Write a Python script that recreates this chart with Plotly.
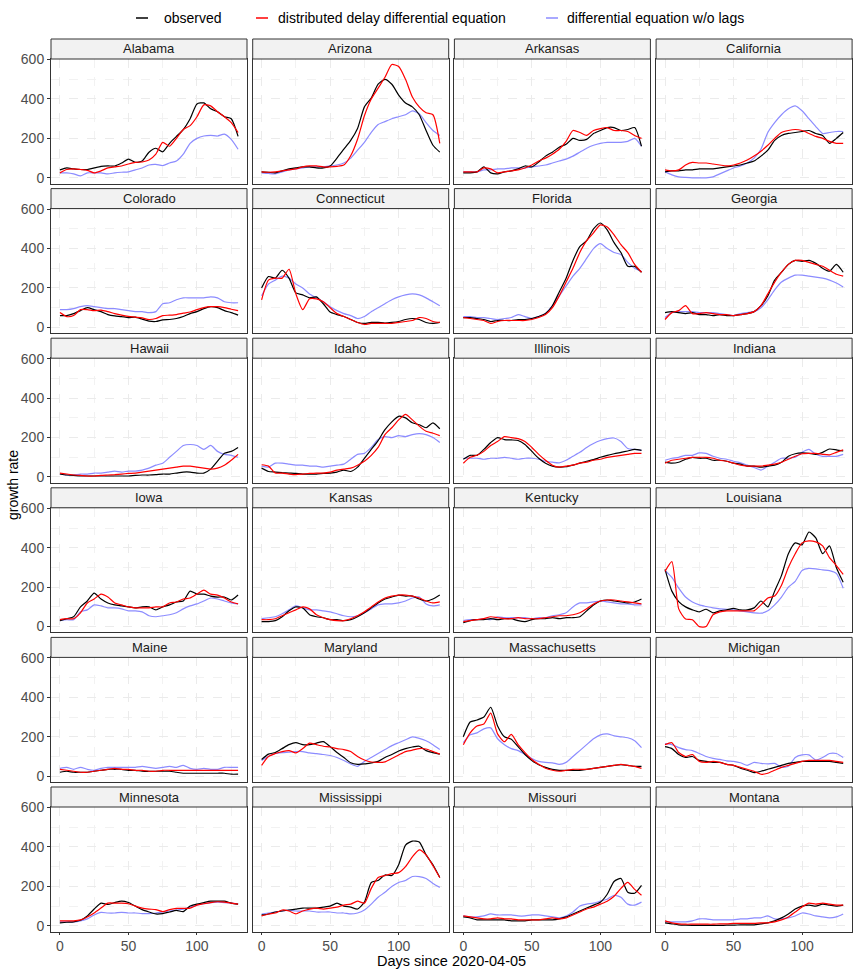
import plotly.graph_objects as go

# -----------------------------------------------------------------------------
#   DATA  (growth rate, every 5 days)
# -----------------------------------------------------------------------------

DAYS = list(range(0, 131, 5))

alabama_obs = [40, 50, 45, 42, 42, 50, 58, 60, 60, 75, 95, 78, 85, 130, 150, 132, 175, 210, 245, 300, 375, 380, 350, 335, 310, 300, 210]
alabama_dde = [25, 42, 45, 42, 38, 25, 35, 50, 55, 60, 70, 78, 80, 90, 120, 180, 160, 200, 245, 265, 310, 370, 365, 335, 310, 280, 230]
alabama_ode = [25, 25, 20, 10, 25, 25, 25, 20, 25, 28, 30, 40, 50, 65, 68, 62, 75, 85, 120, 175, 200, 212, 215, 212, 222, 195, 145]

arizona_obs = [30, 28, 25, 35, 45, 50, 55, 55, 50, 50, 60, 100, 145, 190, 250, 360, 405, 475, 500, 475, 420, 380, 360, 320, 240, 165, 130]
arizona_dde = [30, 28, 30, 35, 40, 45, 55, 60, 60, 55, 55, 58, 65, 112, 196, 315, 400, 455, 510, 575, 565, 500, 410, 360, 330, 320, 175]
arizona_ode = [25, 22, 20, 30, 40, 45, 50, 55, 55, 55, 60, 65, 75, 100, 140, 180, 230, 270, 285, 300, 310, 320, 340, 325, 280, 240, 215]

arkansas_obs = [25, 25, 30, 55, 25, 20, 30, 35, 45, 60, 55, 80, 110, 130, 155, 170, 200, 190, 195, 225, 240, 255, 255, 240, 245, 255, 160]
arkansas_dde = [30, 30, 30, 50, 45, 25, 30, 35, 40, 50, 65, 85, 100, 120, 145, 185, 240, 230, 215, 240, 250, 255, 240, 240, 235, 215, 200]
arkansas_ode = [30, 30, 30, 40, 40, 45, 45, 50, 50, 50, 55, 60, 65, 75, 85, 95, 110, 130, 150, 165, 175, 180, 180, 180, 185, 200, 160]

california_obs = [30, 35, 35, 40, 40, 45, 45, 45, 50, 55, 60, 65, 75, 85, 110, 140, 190, 215, 225, 230, 235, 240, 225, 215, 175, 200, 230]
california_dde = [40, 35, 40, 65, 78, 75, 75, 70, 65, 60, 65, 75, 90, 110, 135, 165, 200, 230, 240, 245, 240, 225, 210, 200, 185, 175, 175]
california_ode = [30, 15, 5, 2, 0, 0, 0, 5, 20, 35, 50, 60, 75, 100, 145, 230, 280, 320, 350, 365, 340, 300, 260, 225, 230, 235, 235]

colorado_obs = [60, 60, 70, 85, 100, 90, 80, 65, 58, 55, 50, 52, 42, 32, 30, 38, 40, 45, 55, 70, 80, 95, 105, 100, 85, 75, 62]
colorado_dde = [75, 55, 60, 90, 90, 85, 88, 80, 70, 62, 56, 52, 48, 40, 45, 60, 62, 65, 72, 78, 90, 100, 105, 105, 100, 92, 85]
colorado_ode = [90, 90, 95, 105, 110, 105, 100, 95, 95, 90, 85, 80, 80, 75, 80, 120, 125, 140, 150, 150, 150, 150, 155, 150, 130, 125, 125]

connecticut_obs = [200, 258, 250, 290, 250, 175, 165, 150, 155, 120, 78, 65, 55, 40, 25, 20, 25, 25, 22, 25, 30, 40, 45, 40, 25, 20, 25]
connecticut_dde = [140, 240, 250, 250, 295, 170, 90, 145, 145, 130, 100, 70, 55, 40, 25, 15, 20, 20, 20, 20, 25, 30, 35, 50, 45, 30, 25]
connecticut_ode = [160, 220, 240, 260, 250, 220, 200, 170, 150, 130, 105, 85, 70, 60, 45, 55, 80, 100, 120, 140, 155, 165, 170, 165, 150, 130, 110]

florida_obs = [50, 50, 45, 40, 30, 35, 35, 35, 40, 40, 45, 55, 70, 110, 180, 250, 340, 410, 440, 500, 530, 495, 430, 380, 310, 310, 280]
florida_dde = [50, 45, 40, 35, 20, 30, 35, 35, 35, 35, 40, 50, 65, 100, 160, 230, 300, 380, 440, 480, 520, 510, 470, 420, 380, 320, 280]
florida_ode = [55, 55, 50, 50, 45, 40, 45, 50, 65, 55, 45, 55, 70, 110, 160, 210, 260, 300, 350, 400, 425, 400, 380, 370, 330, 300, 285]

georgia_obs = [75, 80, 75, 70, 75, 65, 65, 60, 65, 60, 60, 65, 70, 80, 110, 160, 240, 280, 320, 340, 335, 340, 325, 300, 285, 320, 280]
georgia_dde = [40, 75, 85, 110, 70, 70, 75, 70, 65, 65, 60, 65, 70, 80, 110, 170, 230, 280, 320, 340, 340, 330, 320, 310, 290, 270, 260]
georgia_ode = [50, 75, 80, 80, 80, 75, 75, 75, 70, 65, 60, 70, 75, 80, 100, 140, 190, 230, 250, 265, 265, 260, 255, 250, 240, 225, 205]

hawaii_obs = [15, 10, 8, 5, 5, 5, 5, 5, 5, 5, 5, 8, 10, 10, 12, 15, 15, 20, 25, 25, 20, 20, 40, 80, 120, 130, 150]
hawaii_dde = [20, 15, 10, 8, 5, 5, 8, 10, 12, 15, 18, 20, 25, 30, 35, 40, 45, 50, 55, 55, 50, 45, 40, 45, 60, 85, 115]
hawaii_ode = [15, 10, 10, 15, 15, 20, 20, 25, 30, 25, 30, 30, 35, 45, 60, 70, 100, 130, 160, 165, 160, 140, 160, 130, 115, 110, 100]

idaho_obs = [45, 28, 25, 22, 20, 18, 15, 15, 15, 18, 20, 25, 35, 28, 50, 95, 140, 185, 240, 280, 308, 300, 275, 265, 250, 275, 245]
idaho_dde = [62, 55, 20, 20, 15, 12, 15, 18, 20, 20, 25, 35, 40, 45, 60, 80, 110, 150, 215, 250, 290, 318, 290, 258, 232, 222, 210]
idaho_ode = [55, 50, 70, 70, 65, 60, 60, 55, 55, 50, 55, 60, 65, 90, 115, 120, 150, 190, 205, 200, 210, 205, 215, 220, 215, 200, 175]

illinois_obs = [90, 110, 110, 140, 175, 200, 190, 188, 185, 165, 130, 95, 70, 55, 50, 52, 60, 70, 80, 88, 100, 110, 118, 125, 132, 140, 135]
illinois_dde = [70, 100, 110, 130, 160, 180, 205, 200, 195, 180, 150, 115, 85, 60, 50, 55, 60, 70, 75, 85, 90, 100, 105, 110, 115, 120, 120]
illinois_ode = [95, 95, 95, 90, 95, 95, 100, 95, 90, 95, 95, 90, 80, 75, 72, 85, 105, 125, 150, 170, 185, 195, 198, 180, 145, 140, 135]

indiana_obs = [75, 70, 75, 90, 100, 95, 95, 85, 85, 80, 70, 65, 55, 55, 50, 55, 60, 75, 105, 118, 122, 120, 115, 125, 142, 138, 132]
indiana_dde = [70, 85, 90, 95, 100, 100, 100, 95, 85, 80, 70, 60, 55, 55, 55, 60, 65, 75, 90, 105, 118, 120, 120, 115, 112, 125, 138]
indiana_ode = [85, 95, 100, 110, 110, 122, 120, 105, 95, 90, 80, 72, 60, 48, 35, 55, 75, 95, 95, 100, 125, 140, 115, 105, 105, 105, 115]

iowa_obs = [30, 40, 50, 100, 130, 170, 140, 120, 110, 105, 100, 95, 100, 100, 85, 100, 110, 125, 130, 180, 165, 165, 155, 150, 150, 135, 160]
iowa_dde = [35, 40, 40, 70, 120, 140, 165, 150, 120, 110, 100, 95, 95, 95, 100, 100, 120, 125, 140, 145, 165, 185, 165, 160, 145, 125, 115]
iowa_ode = [30, 35, 35, 75, 85, 110, 105, 95, 95, 90, 80, 80, 75, 55, 50, 55, 60, 70, 90, 105, 115, 130, 145, 140, 130, 120, 115]

kansas_obs = [25, 25, 30, 50, 80, 100, 95, 60, 50, 45, 35, 35, 30, 35, 50, 70, 95, 120, 140, 150, 160, 155, 155, 140, 130, 140, 160]
kansas_dde = [35, 35, 40, 55, 70, 85, 100, 90, 60, 45, 35, 30, 30, 40, 55, 75, 100, 125, 145, 155, 160, 160, 155, 145, 130, 120, 125]
kansas_ode = [40, 45, 50, 65, 85, 105, 95, 85, 85, 80, 75, 65, 55, 50, 55, 70, 90, 110, 115, 115, 120, 130, 145, 150, 115, 105, 110]

kentucky_obs = [20, 30, 35, 35, 40, 35, 40, 40, 30, 25, 35, 40, 40, 45, 40, 45, 45, 50, 80, 110, 130, 135, 130, 125, 120, 125, 140]
kentucky_dde = [25, 30, 35, 40, 50, 45, 40, 40, 45, 40, 40, 40, 45, 50, 55, 55, 60, 70, 90, 115, 130, 135, 135, 130, 125, 120, 115]
kentucky_ode = [30, 35, 35, 40, 35, 50, 45, 45, 45, 45, 40, 45, 45, 55, 60, 70, 100, 120, 120, 125, 130, 125, 120, 115, 115, 110, 110]

louisiana_obs = [290, 180, 127, 100, 85, 75, 88, 70, 80, 85, 92, 85, 85, 95, 130, 100, 180, 260, 370, 425, 415, 480, 450, 370, 410, 300, 225]
louisiana_dde = [280, 330, 90, 38, 35, 0, 0, 60, 75, 80, 80, 80, 80, 80, 110, 145, 155, 210, 300, 370, 425, 435, 430, 410, 350, 310, 265]
louisiana_ode = [285, 250, 195, 150, 125, 110, 102, 95, 90, 88, 85, 80, 75, 70, 68, 80, 110, 150, 200, 230, 285, 295, 293, 288, 284, 270, 195]

maine_obs = [20, 25, 20, 20, 20, 25, 30, 35, 35, 35, 30, 30, 25, 25, 25, 25, 25, 20, 15, 15, 15, 15, 15, 15, 15, 10, 10]
maine_dde = [35, 30, 25, 20, 20, 25, 30, 35, 40, 35, 35, 30, 30, 25, 25, 30, 30, 30, 30, 30, 30, 30, 30, 30, 30, 30, 30]
maine_ode = [40, 45, 35, 45, 35, 30, 40, 45, 45, 45, 45, 45, 50, 45, 40, 45, 50, 45, 55, 40, 35, 40, 35, 35, 45, 45, 45]

maryland_obs = [85, 112, 120, 140, 160, 170, 160, 160, 168, 175, 150, 120, 95, 68, 60, 62, 68, 75, 95, 110, 128, 140, 148, 152, 130, 120, 112]
maryland_dde = [55, 100, 115, 125, 130, 118, 140, 168, 160, 152, 148, 140, 135, 125, 100, 82, 72, 70, 73, 90, 108, 125, 132, 140, 138, 125, 112]
maryland_ode = [80, 100, 115, 120, 122, 125, 125, 118, 115, 110, 105, 95, 80, 62, 50, 75, 95, 115, 135, 155, 170, 185, 200, 192, 180, 160, 135]

massachusetts_obs = [200, 275, 285, 300, 350, 255, 200, 188, 150, 110, 80, 58, 45, 35, 30, 30, 30, 30, 35, 40, 45, 50, 55, 58, 55, 50, 50]
massachusetts_dde = [160, 220, 255, 265, 320, 215, 175, 212, 160, 120, 85, 60, 40, 30, 25, 30, 35, 35, 35, 40, 45, 50, 55, 60, 55, 50, 40]
massachusetts_ode = [170, 210, 220, 240, 245, 190, 160, 140, 130, 110, 90, 75, 70, 68, 60, 70, 100, 130, 160, 190, 210, 215, 205, 200, 195, 180, 145]

michigan_obs = [150, 140, 110, 95, 100, 80, 75, 70, 70, 60, 55, 40, 30, 18, 25, 35, 45, 55, 65, 70, 75, 75, 75, 75, 75, 70, 65]
michigan_dde = [160, 170, 120, 100, 110, 75, 70, 75, 70, 60, 55, 45, 35, 25, 10, 15, 30, 45, 55, 65, 75, 80, 80, 80, 80, 75, 70]
michigan_ode = [165, 160, 145, 135, 130, 115, 100, 90, 85, 78, 75, 68, 55, 70, 65, 62, 65, 45, 50, 95, 108, 108, 82, 95, 115, 115, 95]

minnesota_obs = [15, 18, 20, 28, 50, 85, 115, 108, 118, 125, 118, 100, 82, 70, 60, 62, 70, 78, 72, 100, 110, 118, 125, 125, 125, 115, 110]
minnesota_dde = [25, 25, 25, 30, 45, 65, 90, 115, 115, 115, 112, 100, 90, 85, 82, 72, 82, 88, 88, 90, 105, 112, 118, 122, 120, 115, 110]
minnesota_ode = [20, 20, 20, 25, 35, 55, 68, 65, 65, 68, 65, 65, 62, 62, 65, 70, 75, 80, 85, 95, 105, 112, 118, 120, 118, 115, 110]

mississippi_obs = [55, 60, 70, 75, 80, 85, 90, 90, 90, 95, 100, 115, 100, 95, 85, 120, 220, 230, 258, 255, 310, 410, 430, 425, 360, 310, 245]
mississippi_dde = [50, 60, 65, 80, 75, 60, 75, 85, 90, 85, 90, 95, 105, 110, 125, 115, 190, 245, 255, 265, 270, 300, 350, 385, 360, 305, 245]
mississippi_ode = [60, 65, 70, 75, 80, 75, 75, 75, 70, 70, 70, 65, 65, 60, 65, 80, 110, 145, 170, 200, 220, 230, 250, 250, 240, 215, 195]

missouri_obs = [45, 40, 30, 30, 30, 30, 30, 25, 25, 25, 30, 30, 30, 30, 35, 45, 60, 75, 90, 105, 120, 160, 225, 240, 170, 165, 205]
missouri_dde = [50, 45, 40, 35, 35, 40, 35, 35, 30, 30, 30, 30, 35, 40, 35, 40, 55, 70, 85, 95, 110, 125, 150, 190, 220, 185, 155]
missouri_ode = [50, 45, 45, 50, 60, 55, 55, 55, 50, 50, 55, 55, 50, 45, 40, 50, 70, 100, 110, 115, 125, 135, 155, 145, 110, 105, 120]

montana_obs = [15, 10, 5, 3, 2, 2, 2, 2, 2, 3, 3, 5, 5, 5, 10, 15, 25, 40, 60, 85, 100, 105, 100, 110, 105, 100, 105]
montana_dde = [25, 15, 10, 8, 8, 8, 8, 8, 10, 10, 12, 12, 12, 12, 15, 15, 20, 30, 45, 70, 95, 115, 110, 115, 110, 105, 105]
montana_ode = [20, 20, 20, 20, 25, 35, 35, 30, 30, 30, 30, 35, 35, 40, 40, 50, 35, 35, 40, 50, 65, 60, 50, 45, 40, 45, 60]

STATES = [
    ("Alabama", alabama_obs, alabama_dde, alabama_ode),
    ("Arizona", arizona_obs, arizona_dde, arizona_ode),
    ("Arkansas", arkansas_obs, arkansas_dde, arkansas_ode),
    ("California", california_obs, california_dde, california_ode),
    ("Colorado", colorado_obs, colorado_dde, colorado_ode),
    ("Connecticut", connecticut_obs, connecticut_dde, connecticut_ode),
    ("Florida", florida_obs, florida_dde, florida_ode),
    ("Georgia", georgia_obs, georgia_dde, georgia_ode),
    ("Hawaii", hawaii_obs, hawaii_dde, hawaii_ode),
    ("Idaho", idaho_obs, idaho_dde, idaho_ode),
    ("Illinois", illinois_obs, illinois_dde, illinois_ode),
    ("Indiana", indiana_obs, indiana_dde, indiana_ode),
    ("Iowa", iowa_obs, iowa_dde, iowa_ode),
    ("Kansas", kansas_obs, kansas_dde, kansas_ode),
    ("Kentucky", kentucky_obs, kentucky_dde, kentucky_ode),
    ("Louisiana", louisiana_obs, louisiana_dde, louisiana_ode),
    ("Maine", maine_obs, maine_dde, maine_ode),
    ("Maryland", maryland_obs, maryland_dde, maryland_ode),
    ("Massachusetts", massachusetts_obs, massachusetts_dde, massachusetts_ode),
    ("Michigan", michigan_obs, michigan_dde, michigan_ode),
    ("Minnesota", minnesota_obs, minnesota_dde, minnesota_ode),
    ("Mississippi", mississippi_obs, mississippi_dde, mississippi_ode),
    ("Missouri", missouri_obs, missouri_dde, missouri_ode),
    ("Montana", montana_obs, montana_dde, montana_ode),
]

SERIES_NAMES = [
    "observed",
    "distributed delay differential equation",
    "differential equation w/o lags",
]
SERIES_COLORS = ["#000000", "#FF0000", "#8C8CFF"]

X_TICKS = [0, 50, 100]
Y_TICKS = [0, 200, 400, 600]

# -----------------------------------------------------------------------------
#   LAYOUT CONSTANTS (pixels)
# -----------------------------------------------------------------------------

FIG_W, FIG_H = 855, 971
N_COLS = 4
PANEL_LEFT0 = 51.0
COL_PITCH = 201.7
PANEL_W = 196.0
STRIP_TOP0 = 39.0
ROW_PITCH = 149.6
STRIP_H = 20.0
PANEL_H = 124.5

BORDER = "#333333"
GRID = "#EBEBEB"
FONT = "Liberation Sans, Arial, sans-serif"


def px_x(px):
    return px / FIG_W


def px_y(py):
    return 1 - py / FIG_H


fig = go.Figure()
shapes = []
annotations = []
layout_axes = {}

for i, (state, obs, dde, ode) in enumerate(STATES):
    row, col = divmod(i, N_COLS)
    k = i + 1
    xname = "x" if k == 1 else f"x{k}"
    yname = "y" if k == 1 else f"y{k}"

    x0 = PANEL_LEFT0 + col * COL_PITCH
    x1 = x0 + PANEL_W
    strip_top = STRIP_TOP0 + row * ROW_PITCH
    panel_top = strip_top + STRIP_H
    panel_bottom = panel_top + PANEL_H

    # blue first so the fitted / observed curves sit on top
    for values, color in [(ode, SERIES_COLORS[2]), (obs, SERIES_COLORS[0]), (dde, SERIES_COLORS[1])]:
        fig.add_trace(
            go.Scatter(
                x=DAYS,
                y=values,
                mode="lines",
                line=dict(color=color, width=1.2, shape="spline", smoothing=0.6),
                xaxis=xname,
                yaxis=yname,
                showlegend=False,
                hoverinfo="skip",
            )
        )

    bottom_row = row == len(STATES) // N_COLS - 1
    left_col = col == 0

    layout_axes[f"xaxis{k if k > 1 else ''}"] = dict(
        domain=[px_x(x0), px_x(x1)],
        anchor=yname,
        range=[-6.5, 136.5],
        tickvals=X_TICKS,
        showticklabels=bottom_row,
        ticks="outside" if bottom_row else "",
        ticklen=2,
        tickcolor=BORDER,
        tickfont=dict(size=14, color="#4D4D4D"),
        showgrid=True,
        gridcolor=GRID,
        griddash="dash",
        gridwidth=0.8,
        minor=dict(tickvals=[25, 75, 125], showgrid=True, gridcolor="#F2F2F2",
                   griddash="dash", gridwidth=0.6, ticks=""),
        zeroline=False,
        showline=True,
        mirror=True,
        linecolor=BORDER,
        linewidth=1,
        automargin=False,
        fixedrange=True,
    )
    layout_axes[f"yaxis{k if k > 1 else ''}"] = dict(
        domain=[px_y(panel_bottom), px_y(panel_top)],
        anchor=xname,
        range=[-29, 603],
        tickvals=Y_TICKS,
        showticklabels=left_col,
        ticks="outside" if left_col else "",
        ticklen=3,
        tickcolor=BORDER,
        tickfont=dict(size=14, color="#4D4D4D"),
        showgrid=True,
        gridcolor=GRID,
        griddash="dash",
        gridwidth=0.8,
        minor=dict(tickvals=[100, 300, 500], showgrid=True, gridcolor="#F2F2F2",
                   griddash="dash", gridwidth=0.6, ticks=""),
        zeroline=False,
        showline=True,
        mirror=True,
        linecolor=BORDER,
        linewidth=1,
        automargin=False,
        fixedrange=True,
    )

    # facet strip
    shapes.append(dict(
        type="rect", xref="paper", yref="paper",
        x0=px_x(x0), x1=px_x(x1), y0=px_y(panel_top), y1=px_y(strip_top),
        fillcolor="#F2F2F2", line=dict(color=BORDER, width=1), layer="above",
    ))
    annotations.append(dict(
        text=state, xref="paper", yref="paper",
        x=px_x((x0 + x1) / 2), y=px_y(strip_top + STRIP_H / 2),
        xanchor="center", yanchor="middle", showarrow=False,
        font=dict(size=13, color="#1A1A1A"),
    ))

# hand-built legend on top
LEGEND_KEYS = [(136, 162), (256, 276), (546, 565)]
for (key_x, text_x), name, color in zip(LEGEND_KEYS, SERIES_NAMES, SERIES_COLORS):
    shapes.append(dict(
        type="line", xref="paper", yref="paper",
        x0=px_x(key_x), x1=px_x(key_x + 12), y0=px_y(18), y1=px_y(18),
        line=dict(color=color, width=1.5),
    ))
    annotations.append(dict(
        text=name, xref="paper", yref="paper",
        x=px_x(text_x), y=px_y(18), xanchor="left", yanchor="middle",
        showarrow=False, font=dict(size=14, color="#000000"),
    ))

# axis titles
annotations.append(dict(
    text="Days since 2020-04-05", xref="paper", yref="paper",
    x=px_x(451.5), y=px_y(961), xanchor="center", yanchor="middle",
    showarrow=False, font=dict(size=14.5, color="#000000"),
))
annotations.append(dict(
    text="growth rate", xref="paper", yref="paper",
    x=px_x(13), y=px_y(485), xanchor="center", yanchor="middle",
    textangle=-90, showarrow=False, font=dict(size=14, color="#000000"),
))

fig.update_layout(
    template="none",
    width=FIG_W,
    height=FIG_H,
    autosize=False,
    margin=dict(l=0, r=0, t=0, b=0),
    paper_bgcolor="white",
    plot_bgcolor="white",
    font=dict(family=FONT, size=13, color="#000000"),
    showlegend=False,
    shapes=shapes,
    annotations=annotations,
    **layout_axes,
)

# the page body has a default 8px margin; drop it so the figure fills the window
fig.write_html(
    "out.html",
    config={"displayModeBar": False},
    post_script="document.body.style.margin = '0';",
)
